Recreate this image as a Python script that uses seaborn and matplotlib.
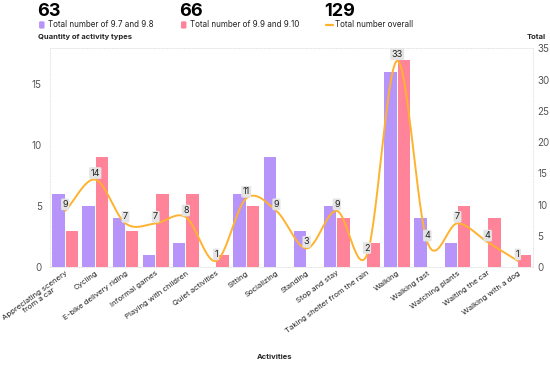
import numpy as np
import pandas as pd
import seaborn as sns
import matplotlib.pyplot as plt
from matplotlib.patches import FancyBboxPatch

# --- DATA ---
activities = [
    "Appreciating scenery\nfrom a car", "Cycling", "E-bike delivery riding",
    "Informal games", "Playing with children", "Quiet activities", "Sitting",
    "Socializing", "Standing", "Stop and stay", "Taking shelter from the rain",
    "Walking", "Walking fast", "Watching plants", "Waiting the car",
    "Walking with a dog",
]
group_a = [6, 5, 4, 1, 2, 0, 6, 9, 3, 5, 0, 16, 4, 2, 0, 0]      # 9.7 and 9.8
group_b = [3, 9, 3, 6, 6, 1, 5, 0, 0, 4, 2, 17, 0, 5, 4, 1]      # 9.9 and 9.10
totals = [9, 14, 7, 7, 8, 1, 11, 9, 3, 9, 2, 33, 4, 7, 4, 1]
series_names = ["Total number of 9.7 and 9.8", "Total number of 9.9 and 9.10"]
headline = ["63", "66", "129"]

PURPLE = "#B794F9"
PINK = "#FF8499"
ORANGE = "#FFB22E"


def catmull_rom(x, y, n=30):
    """Smooth curve through the points (drawing only)."""
    x = np.asarray(x, float)
    y = np.asarray(y, float)
    px = np.concatenate([[2 * x[0] - x[1]], x, [2 * x[-1] - x[-2]]])
    py = np.concatenate([[2 * y[0] - y[1]], y, [2 * y[-1] - y[-2]]])
    xs, ys = [], []
    t = np.linspace(0, 1, n)
    for i in range(1, len(px) - 2):
        for p, out in ((px, xs), (py, ys)):
            p0, p1, p2, p3 = p[i - 1], p[i], p[i + 1], p[i + 2]
            out.append(0.5 * ((2 * p1) + (-p0 + p2) * t
                              + (2 * p0 - 5 * p1 + 4 * p2 - p3) * t ** 2
                              + (-p0 + 3 * p1 - 3 * p2 + p3) * t ** 3))
    return np.concatenate(xs), np.concatenate(ys)


df = pd.DataFrame({
    "activity": activities * 2,
    "count": group_a + group_b,
    "series": [series_names[0]] * len(activities) + [series_names[1]] * len(activities),
})

sns.set_style("white")
plt.rcParams["font.family"] = ["Inter", "DejaVu Sans"]

fig = plt.figure(figsize=(5.5, 3.67), dpi=100)
ax = fig.add_axes([0.091, 0.272, 0.878, 0.598])

sns.barplot(data=df, x="activity", y="count", hue="series",
            palette=[PURPLE, PINK], saturation=1, width=0.88, gap=0.06,
            legend=False, ax=ax, edgecolor="none")

ax.set_ylim(0, 18)
ax.set_xlim(-0.5, len(activities) - 0.5)
ax.set_yticks([0, 5, 10, 15])
ax.tick_params(axis="y", length=0, labelsize=7, labelcolor="#555555", pad=6)
ax.tick_params(axis="x", length=0, pad=2)
ax.set_xticks(range(len(activities)))
ax.set_xticklabels(activities, rotation=36, ha="right", rotation_mode="anchor",
                   multialignment="center", fontsize=5.6, color="#222222",
                   linespacing=1.0)
ax.set_ylabel("")
ax.set_xlabel("")
for s in ax.spines.values():
    s.set_color("#e6e6e6")
    s.set_linestyle(":")
    s.set_linewidth(0.7)

ax2 = ax.twinx()
xs, ys = catmull_rom(np.arange(len(totals)), totals)
ax2.plot(xs, ys, color=ORANGE, lw=1.4)
ax2.set_ylim(0, 35 * 18 / 17.95)
ax2.set_yticks(range(0, 36, 5))
ax2.tick_params(axis="y", length=0, labelsize=7, labelcolor="#555555", pad=3)
for s in ax2.spines.values():
    s.set_visible(False)
for i, v in enumerate(totals):
    ax2.annotate(str(v), (i, v), xytext=(0, 1.5), textcoords="offset points",
                 ha="center", va="bottom", fontsize=6.5, color="#222222",
                 bbox=dict(boxstyle="round,pad=0.15", fc="#e4e4e4", ec="none"))

# axis titles
fig.text(0.069, 0.893, "Quantity of activity types", fontsize=5.5, fontweight="bold")
fig.text(0.992, 0.893, "Total", fontsize=5.5, fontweight="bold", ha="right")
fig.text(0.5, 0.027, "Activities", fontsize=5.5, fontweight="bold", ha="center", va="center")

# header legend
xs_head = [0.067, 0.325, 0.589]
for x0, num, label, col, kind in zip(
        xs_head, headline, series_names + ["Total number overall"],
        [PURPLE, PINK, ORANGE], ["box", "box", "line"]):
    fig.text(x0, 0.968, num, fontsize=13, fontweight="bold", va="center", color="#000000")
    if kind == "box":
        fig.patches.append(FancyBboxPatch((x0 + 0.004, 0.922), 0.01, 0.02,
                                          boxstyle="round,pad=0,rounding_size=0.003",
                                          fc=col, ec="none", transform=fig.transFigure))
    else:
        fig.add_artist(plt.Line2D([x0 + 0.004, x0 + 0.016], [0.932, 0.932],
                                  color=col, lw=1.6, transform=fig.transFigure))
    fig.text(x0 + 0.02, 0.932, label, fontsize=5.8, va="center", color="#222222")

plt.savefig("out.png", dpi=100)
